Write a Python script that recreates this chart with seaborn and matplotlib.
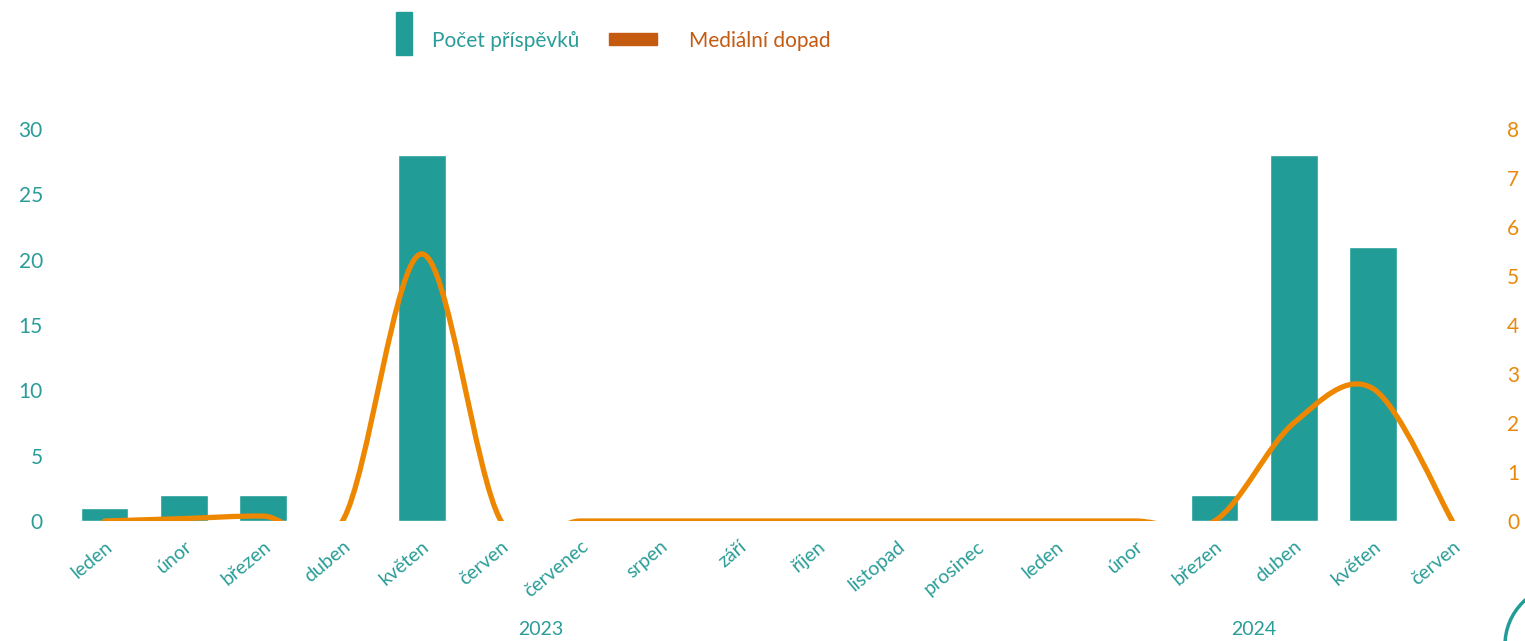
import numpy as np
import pandas as pd
import seaborn as sns
import matplotlib
matplotlib.use("Agg")
from matplotlib import pyplot as plt
from matplotlib.path import Path
from matplotlib.patches import PathPatch, Rectangle, Circle
from matplotlib import transforms

# data
months = ["leden", "únor", "březen", "duben", "květen", "červen", "červenec", "srpen", "září",
          "říjen", "listopad", "prosinec", "leden", "únor", "březen", "duben", "květen", "červen"]
years = ["2023", "2024"]
year_span = [(0, 11), (12, 17)]
posts = [1, 2, 2, 0, 28, 0, 0, 0, 0, 0, 0, 0, 0, 0, 2, 28, 21, 0]
impact = [0, 0.05, 0.1, 0, 5.45, 0, 0, 0, 0, 0, 0, 0, 0, 0, 0, 2.0, 2.7, 0]

teal = "#229C96"
teal_txt = "#2A9D98"
orange = "#EE8700"
orange_txt = "#E8890C"
orange_dark = "#C55A11"

sns.set_theme(style="white")
plt.rcParams["font.family"] = ["Lato", "DejaVu Sans"]

df = pd.DataFrame({"idx": np.arange(len(months)), "posts": posts, "impact": impact})

fig = plt.figure(figsize=(15.25, 6.41), dpi=100)
ax = fig.add_axes([65 / 1525, 1 - 521 / 641, (1492 - 65) / 1525, (521 - 129) / 641])
ax2 = ax.twinx()

sns.barplot(data=df, x="idx", y="posts", color=teal, width=0.6, saturation=1, ax=ax)
ax.set_xlim(-0.5, len(months) - 0.5)
ax.set_ylim(0, 30)
ax.set_yticks(range(0, 31, 5))
ax.set_xlabel("")
ax.set_ylabel("")
ax.set_xticks(range(len(months)))
ax.set_xticklabels(months, rotation=40, ha="right", rotation_mode="anchor",
                   color=teal_txt, fontsize=14)
ax.tick_params(axis="x", length=0, pad=12)
ax.tick_params(axis="y", length=0, pad=16, labelcolor=teal_txt, labelsize=15)

# smoothed line (Catmull-Rom as cubic bezier path)
xs = df["idx"].to_numpy(dtype=float)
ys = df["impact"].to_numpy(dtype=float)
px = np.concatenate([[xs[0]], xs, [xs[-1]]])
py = np.concatenate([[ys[0]], ys, [ys[-1]]])
verts = [(xs[0], ys[0])]
codes = [Path.MOVETO]
for i in range(1, len(xs)):
    a, b, c, d = i - 1, i, i + 1, i + 2
    c1 = (px[b] + (px[c] - px[a]) / 6, py[b] + (py[c] - py[a]) / 6)
    c2 = (px[c] - (px[d] - px[b]) / 6, py[c] - (py[d] - py[b]) / 6)
    verts += [c1, c2, (px[c], py[c])]
    codes += [Path.CURVE4] * 3
ax2.add_patch(PathPatch(Path(verts, codes), fill=False, edgecolor=orange, lw=3.8,
                        capstyle="round", joinstyle="round", zorder=3))
ax2.set_ylim(0, 8)
ax2.set_yticks(range(0, 9))
ax2.tick_params(axis="y", length=0, pad=11, labelcolor=orange_txt, labelsize=15)
ax2.grid(False)
ax.grid(False)

for a in (ax, ax2):
    for s in a.spines.values():
        s.set_visible(False)

# year labels
trans = transforms.blended_transform_factory(ax.transData, ax.transAxes)
for yr, (s, e) in zip(years, year_span):
    ax.text((s + e) / 2, -0.278, yr, transform=trans, ha="center", va="center",
            color=teal_txt, fontsize=14, clip_on=False)

# legend
fig.add_artist(Rectangle((396, 641 - 55), 16, 43, transform=None, color=teal))
fig.text(432 / 1525, 1 - 41 / 641, "Počet příspěvků", color=teal_txt, fontsize=15,
         va="center", ha="left")
fig.add_artist(Rectangle((609, 641 - 45), 48, 12, transform=None, color=orange_dark))
fig.text(689 / 1525, 1 - 41 / 641, "Mediální dopad", color=orange_dark, fontsize=15,
         va="center", ha="left")

# corner decoration
fig.add_artist(Circle((1565, -4), 60, transform=None, fill=False, edgecolor=teal, lw=2.5))

plt.savefig("out.png", dpi=100)
